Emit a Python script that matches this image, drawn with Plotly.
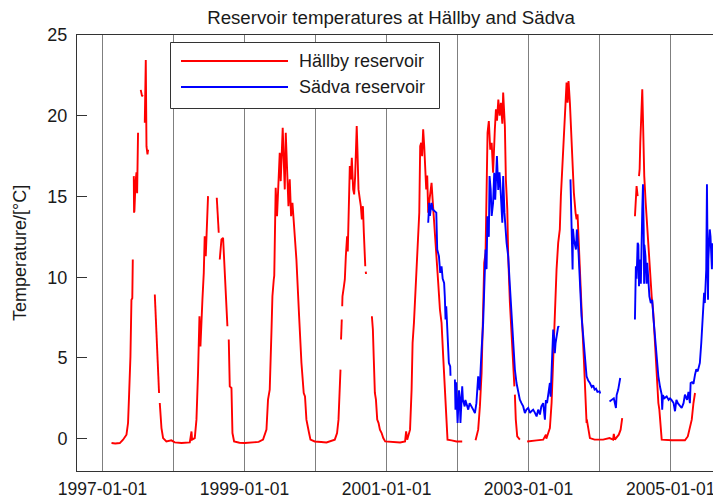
from datetime import datetime, timedelta

import plotly.graph_objects as go

# Hällby reservoir, decimal year / temperature (None = gap in record)
HALLBY_YEAR = [
    1997.127, 1997.18, 1997.244, 1997.29, 1997.338, 1997.36, 1997.375, 1997.394, 1997.408, 1997.42, 1997.427, None,
    1997.441, 1997.445, 1997.45, 1997.465, 1997.479, 1997.488, 1997.492, 1997.501, None,
    1997.539, 1997.548, 1997.558, 1997.565, None,
    1997.596, 1997.61, 1997.62, 1997.634, 1997.643, None,
    1997.737, 1997.76, 1997.783, 1997.797, None,
    1997.807, 1997.817, 1997.831, 1997.854, 1997.9, 1997.97, 1998.018, 1998.113, 1998.23, 1998.254, 1998.262,
    1998.3, 1998.324, 1998.346, 1998.366, 1998.38, 1998.394, 1998.408, 1998.427, 1998.44, 1998.455, 1998.469,
    1998.487, None,
    1998.61, 1998.638, None,
    1998.652, 1998.676, 1998.699, 1998.722, 1998.76, None,
    1998.779, 1998.793, 1998.817, 1998.831, 1998.854, 1998.93, 1999.005, 1999.1, 1999.2, 1999.262, 1999.31,
    1999.332, 1999.356, 1999.38, 1999.394, 1999.413, 1999.42, 1999.44, 1999.459, 1999.473, 1999.497, 1999.511,
    1999.525, 1999.539, 1999.553, 1999.568, 1999.582, 1999.6, 1999.62, 1999.638, 1999.657, 1999.676, 1999.694,
    1999.732, 1999.77, 1999.803, 1999.835, 1999.853, 1999.873, 1999.896, 1999.91, 1999.93, 1999.99, 2000.08,
    2000.155, 2000.272, 2000.304, 2000.324, 2000.342, 2000.352, None,
    2000.36, 2000.37, None,
    2000.376, 2000.38, 2000.4, 2000.413, 2000.427, 2000.437, 2000.445, 2000.454, 2000.465, 2000.483, 2000.497,
    2000.511, 2000.53, 2000.544, 2000.558, 2000.572, 2000.58, 2000.59, 2000.605, 2000.624, 2000.638, 2000.652,
    2000.667, 2000.68, 2000.7, None,
    2000.707, 2000.711, None,
    2000.793, 2000.807, 2000.82, 2000.835, 2000.85, 2000.868, 2000.887, 2000.906, 2000.93, 2000.953, 2000.98,
    2001.08, 2001.19, 2001.26, 2001.275, 2001.29, 2001.33, 2001.352, 2001.366, 2001.385, 2001.4, 2001.413,
    2001.427, 2001.445, 2001.46, 2001.473, 2001.487, 2001.5, 2001.515, 2001.53, 2001.544, 2001.558, 2001.572,
    2001.586, 2001.605, 2001.624, 2001.633, 2001.648, 2001.662, 2001.68, 2001.704, 2001.727, 2001.751, 2001.774,
    2001.797, 2001.82, 2001.844, 2001.858, 2001.915, 2001.985, 2002.065, None,
    2002.253, 2002.29, 2002.314, 2002.338, 2002.361, 2002.375, 2002.394, 2002.408, 2002.422, 2002.44, 2002.46,
    2002.48, 2002.5, 2002.525, 2002.54, 2002.555, 2002.574, 2002.592, 2002.61, 2002.63, 2002.642, 2002.666,
    2002.68, 2002.7, 2002.713, 2002.737, 2002.76, 2002.783, 2002.8, None,
    2002.807, 2002.82, 2002.84, 2002.877, None,
    2002.98, 2003.05, 2003.113, 2003.206, 2003.244, 2003.25, 2003.3, 2003.324, 2003.347, 2003.37, 2003.394,
    2003.417, 2003.44, 2003.455, 2003.473, 2003.487, 2003.5, 2003.516, 2003.535, 2003.549, 2003.563, 2003.582,
    2003.6, 2003.62, 2003.638, 2003.662, 2003.676, 2003.69, 2003.713, 2003.732, 2003.755, 2003.779, 2003.797,
    2003.817, 2003.82, 2003.845, 2003.864, 2003.93, 2004.05, 2004.14, 2004.19, 2004.2, 2004.215, 2004.27,
    2004.296, 2004.318, None,
    2004.497, 2004.507, 2004.52, 2004.535, None,
    2004.554, 2004.563, 2004.572, 2004.582, 2004.6, 2004.61, 2004.62, 2004.628, 2004.648, 2004.676, 2004.709,
    2004.732, 2004.755, 2004.78, 2004.803, 2004.826, 2004.84, 2004.855, 2004.873, 2005.014, 2005.2, 2005.24,
    2005.27, 2005.296, 2005.32, 2005.342,
]
HALLBY_TEMP = [
    -0.27, -0.3, -0.27, -0.06, 0.25, 0.97, 2.73, 5.1, 8.6, 8.7, 11.1, None,
    16.26, 14.0, 14.1, 15.85, 16.5, 15.2, 16.2, 18.95, None,
    21.6, 21.3, 21.2, 21.3, None,
    19.57, 23.45, 18.1, 17.6, 17.9, None,
    8.93, 6.55, 4.07, 2.83, None,
    2.21, 1.38, 0.66, 0.04, -0.17, -0.1, -0.23, -0.27, -0.23, 0.45, -0.06,
    0.04, 1.18, 4.07, 7.58, 5.72, 7.58, 8.62, 10.27, 12.54, 11.3, 12.54,
    15.02, None,
    14.92, 12.75, None,
    11.1, 12.34, 12.44, 10.27, 6.96, None,
    6.14, 3.24, 3.14, 0.35, -0.17, -0.25, -0.27, -0.25, -0.2, -0.06, 0.56,
    2.42, 3.04, 6.55, 8.82, 9.86, 10.1, 15.54, 13.78, 15.23, 17.71, 15.95,
    18.33, 19.26, 17.3, 15.44, 18.95, 16.26, 14.4, 16.06, 13.78, 14.61, 13.58,
    11.1, 7.58, 4.69, 2.83, 2.62, 1.18, 0.56, 0.35, -0.06, -0.17, -0.2,
    -0.23, -0.06, 0.35, 1.18, 2.83, 4.28, None,
    6.14, 7.38, None,
    8.2, 8.82, 9.44, 9.86, 11.3, 12.13, 12.54, 11.6, 14.2, 16.88, 16.06,
    17.4, 15.44, 15.13, 16.26, 18.54, 19.36, 17.92, 15.44, 14.82, 14.4, 13.58,
    14.4, 12.75, 10.68, None,
    10.35, 10.2, None,
    7.58, 6.76, 4.9, 2.83, 2.42, 1.18, 0.97, 0.56, 0.35, 0.04, -0.17,
    -0.2, -0.23, -0.17, 0.45, -0.06, 0.56, 3.04, 5.93, 7.17, 8.41, 10.06,
    11.1, 12.34, 13.99, 18.12, 18.33, 17.5, 19.16, 18.1, 16.47, 15.44, 16.3,
    13.99, 14.82, 15.44, 15.85, 14.82, 13.78, 12.54, 11.3, 9.65, 8.0, 7.17,
    5.1, 3.04, 0.56, -0.06, -0.1, -0.17, -0.17, None,
    -0.1, 0.56, 2.0, 4.07, 8.2, 10.89, 11.5, 15.44, 18.95, 19.67, 17.9,
    18.33, 16.47, 19.16, 20.4, 19.7, 21.0, 20.0, 20.8, 19.5, 21.43, 19.36,
    16.06, 14.2, 11.3, 8.41, 6.34, 4.28, 3.24, None,
    2.73, 1.18, 0.14, -0.06, None,
    -0.17, -0.12, -0.1, -0.06, 0.25, 0.0, 0.66, 2.21, 5.31, 8.2, 10.48,
    12.13, 12.96, 15.02, 16.68, 18.12, 19.36, 21.02, 22.05, 20.81, 22.15, 20.81,
    18.74, 16.88, 15.23, 13.99, 13.58, 13.9, 11.1, 9.65, 7.17, 4.9, 2.62,
    0.97, 1.2, 0.35, 0.04, -0.06, -0.06, 0.04, -0.06, 0.3, -0.06, 0.25,
    0.56, 1.28, None,
    13.78, 15.23, 15.64, 15.02, None,
    16.26, 16.7, 18.33, 19.57, 21.64, 19.77, 17.71, 16.26, 14.61, 12.54, 10.27,
    8.82, 7.79, 5.72, 4.48, 2.21, 1.8, 0.97, -0.06, -0.1, -0.1, 0.14,
    0.66, 1.18, 2.21, 2.83,
]

# Sädva reservoir
SADVA_YEAR = [
    2001.586, 2001.6, 2001.61, 2001.633, 2001.65, 2001.68, 2001.7, 2001.713, 2001.737, 2001.755, 2001.774,
    2001.79, 2001.81, 2001.82, 2001.83, 2001.84, 2001.858, 2001.877, 2001.896, 2001.9, None,
    2001.962, 2001.97, 2001.98, 2002.0, 2002.02, 2002.03, 2002.04, 2002.065, 2002.075, 2002.1, 2002.11,
    2002.15, 2002.17, 2002.19, 2002.22, 2002.244, 2002.265, 2002.29, 2002.31, 2002.338, 2002.36, 2002.375,
    2002.394, 2002.408, 2002.42, 2002.44, 2002.45, 2002.466, 2002.48, 2002.5, 2002.516, 2002.53, 2002.554,
    2002.573, 2002.59, 2002.6, 2002.61, 2002.63, 2002.642, 2002.66, 2002.69, 2002.713, 2002.737, 2002.76,
    2002.77, 2002.78, 2002.807, 2002.83, 2002.854, 2002.877, 2002.9, 2002.924, 2002.948, 2002.97, 2002.995,
    2003.02, 2003.04, 2003.065, 2003.09, 2003.113, 2003.135, 2003.16, 2003.18, 2003.206, 2003.23, 2003.244,
    2003.26, 2003.28, 2003.3, 2003.31, 2003.33, 2003.347, 2003.36, 2003.37, 2003.38, 2003.403, 2003.417,
    2003.43, None,
    2003.59, 2003.6, 2003.62, 2003.625, 2003.64, 2003.667, 2003.68, 2003.704, 2003.72, 2003.746, 2003.77,
    2003.793, 2003.817, 2003.84, 2003.864, 2003.89, 2003.91, 2003.93, 2003.95, 2003.97, 2004.0, 2004.01, None,
    2004.14, 2004.17, 2004.2, 2004.23, 2004.24, 2004.262, 2004.28, 2004.29, None,
    2004.497, 2004.5, 2004.51, 2004.52, 2004.535, 2004.545, 2004.554, 2004.56, 2004.57, 2004.58, 2004.6,
    2004.61, 2004.62, 2004.626, 2004.63, 2004.645, 2004.66, 2004.67, 2004.7, 2004.72, 2004.74, 2004.755,
    2004.78, 2004.803, 2004.826, 2004.85, 2004.873, 2004.88, 2004.89, 2004.91, 2004.943, 2004.97, 2004.99,
    2005.01, 2005.04, 2005.06, 2005.08, 2005.1, 2005.12, 2005.154, 2005.18, 2005.2, 2005.23, 2005.25,
    2005.27, 2005.28, 2005.3, 2005.32, 2005.342, 2005.36, 2005.38, 2005.41, 2005.43, 2005.45, 2005.47,
    2005.48, 2005.5, 2005.51, 2005.525, 2005.53, 2005.55, 2005.56, 2005.57, 2005.58, 2005.59, 2005.6,
    2005.61, 2005.62, 2005.635, 2005.65, 2005.7,
]
SADVA_TEMP = [
    13.37, 14.61, 13.8, 14.6, 14.2, 14.09, 14.0, 11.72, 11.3, 10.27, 10.68,
    9.9, 9.65, 8.8, 7.38, 8.2, 5.93, 4.69, 4.48, 3.9, None,
    3.66, 1.8, 3.5, 0.97, 3.0, 2.6, 0.97, 3.24, 2.4, 2.0, 2.4,
    1.8, 2.2, 2.0, 1.8, 1.59, 2.2, 3.86, 3.0, 5.52, 7.17, 9.24,
    11.72, 10.5, 13.78, 12.5, 16.26, 15.44, 13.8, 14.6, 16.47, 14.8, 17.5,
    15.4, 16.5, 15.85, 14.82, 13.37, 16.26, 14.0, 12.13, 11.3, 9.44, 7.79,
    7.2, 5.9, 4.28, 3.45, 2.83, 2.42, 2.2, 2.0, 1.59, 1.8, 1.9,
    1.59, 1.7, 1.8, 1.6, 1.38, 1.8, 1.5, 2.0, 2.2, 1.18, 2.4,
    2.2, 3.04, 3.45, 2.6, 4.69, 6.76, 6.3, 5.3, 5.9, 6.76, 6.96,
    6.9, None,
    16.06, 13.6, 10.48, 13.0, 12.3, 11.72, 12.96, 11.5, 9.65, 7.58, 6.34,
    4.9, 3.86, 3.6, 3.45, 3.2, 3.3, 3.04, 3.1, 2.9, 2.93, 2.8, None,
    2.31, 2.4, 2.5, 1.9, 2.7, 3.04, 3.66, 3.76, None,
    7.38, 8.2, 10.68, 9.9, 12.13, 12.0, 9.44, 10.2, 11.1, 9.6, 14.2,
    15.75, 12.96, 9.6, 12.0, 11.3, 9.6, 10.9, 8.82, 8.4, 8.6, 7.58,
    6.34, 4.9, 3.86, 3.2, 2.73, 1.8, 2.7, 2.5, 2.62, 2.4, 2.5,
    2.4, 2.21, 1.7, 2.4, 2.2, 2.1, 1.9, 2.2, 2.73, 2.4, 2.9,
    2.2, 3.45, 3.5, 3.4, 3.97, 4.3, 4.17, 4.69, 5.93, 8.0, 9.03,
    8.4, 10.48, 15.75, 8.6, 11.1, 12.96, 12.54, 11.5, 10.5, 12.1, 11.1,
    11.7, 10.9, 10.06, 9.24, 9.5,
]

YEAR_TICKS = list(range(1997, 2006))
X_RANGE = [1996.642, 2005.708]
Y_RANGE = [-2, 25]
Y_TICKS = [0, 5, 10, 15, 20, 25]

FONT = 'Liberation Sans, Arial, sans-serif'
TEXT = '#1a1a1a'


def to_date(y):
    if y is None:
        return None
    yr = int(y)
    start = datetime(yr, 1, 1)
    days = (datetime(yr + 1, 1, 1) - start).days
    return start + timedelta(days=(y - yr) * days)


# the page body has an 8px margin, so the figure is shrunk by that much
PAGE_PAD = 8
W, H = 721 - PAGE_PAD, 499 - PAGE_PAD
# plot area edges in page pixels
AX_L, AX_R, AX_T, AX_B = 77, 721, 35, 471
L, R, T, B = AX_L - PAGE_PAD, 0, AX_T - PAGE_PAD, 499 - AX_B


def px(x):
    return (x - AX_L) / (AX_R - AX_L)


def py(y):
    return (AX_B - y) / (AX_B - AX_T)


fig = go.Figure()
fig.add_trace(go.Scatter(
    x=[to_date(v) for v in HALLBY_YEAR], y=HALLBY_TEMP,
    mode='lines', line=dict(color='#ff0000', width=1.9),
    name='Hällby reservoir', connectgaps=False,
))
fig.add_trace(go.Scatter(
    x=[to_date(v) for v in SADVA_YEAR], y=SADVA_TEMP,
    mode='lines', line=dict(color='#0000ff', width=1.9),
    name='Sädva reservoir', connectgaps=False,
))

tick_text = [f'{y}-01-01' if y % 2 == 1 else '' for y in YEAR_TICKS]

fig.update_layout(
    width=W, height=H,
    margin=dict(l=L, r=R, t=T, b=B),
    paper_bgcolor='white', plot_bgcolor='white',
    font=dict(family=FONT, size=18, color=TEXT),
    showlegend=False,
    title=dict(
        text='Reservoir temperatures at Hällby and Sädva',
        xref='container', yref='container',
        x=(391 - PAGE_PAD) / W, y=1 - (17 - PAGE_PAD) / H,
        xanchor='center', yanchor='middle',
        font=dict(size=18.7, color=TEXT),
    ),
    xaxis=dict(
        type='date',
        range=[to_date(X_RANGE[0]), to_date(X_RANGE[1])],
        tickmode='array',
        tickvals=[to_date(y) for y in YEAR_TICKS],
        ticktext=tick_text,
        showgrid=True, gridcolor='#7f7f7f', gridwidth=1,
        showline=True, linecolor='#333333', linewidth=1, mirror=True,
        ticks='', zeroline=False, automargin=False,
        ticklabelstandoff=2, tickfont=dict(size=17.5),
    ),
    yaxis=dict(
        range=Y_RANGE,
        tickmode='array', tickvals=Y_TICKS,
        showgrid=False, zeroline=False,
        showline=True, linecolor='#333333', linewidth=1, mirror=False,
        ticks='inside', ticklen=10, tickcolor='#333333', tickwidth=1,
        automargin=False, ticklabelstandoff=5,
    ),
)

# axis title
fig.add_annotation(
    text='Temperature/[°C]', textangle=-90,
    xref='paper', yref='paper', x=px(20), y=py(253),
    xanchor='center', yanchor='middle', showarrow=False,
    font=dict(size=18, color=TEXT),
)

# legend box drawn by hand (MATLAB style long line samples)
fig.add_shape(
    type='rect', xref='paper', yref='paper',
    x0=px(170.5), x1=px(439.5), y0=py(108.5), y1=py(42.5),
    line=dict(color='#333333', width=1), fillcolor='white', layer='above',
)
legend_rows = [('Hällby reservoir', '#ff0000', 61), ('Sädva reservoir', '#0000ff', 87)]
for label, color, yy in legend_rows:
    fig.add_shape(
        type='line', xref='paper', yref='paper',
        x0=px(181), x1=px(288), y0=py(yy), y1=py(yy),
        line=dict(color=color, width=1.9), layer='above',
    )
    fig.add_annotation(
        text=label, xref='paper', yref='paper', x=px(297), y=py(yy),
        xanchor='left', yanchor='middle', showarrow=False,
        font=dict(size=18, color=TEXT),
    )

fig.write_html('out.html')
